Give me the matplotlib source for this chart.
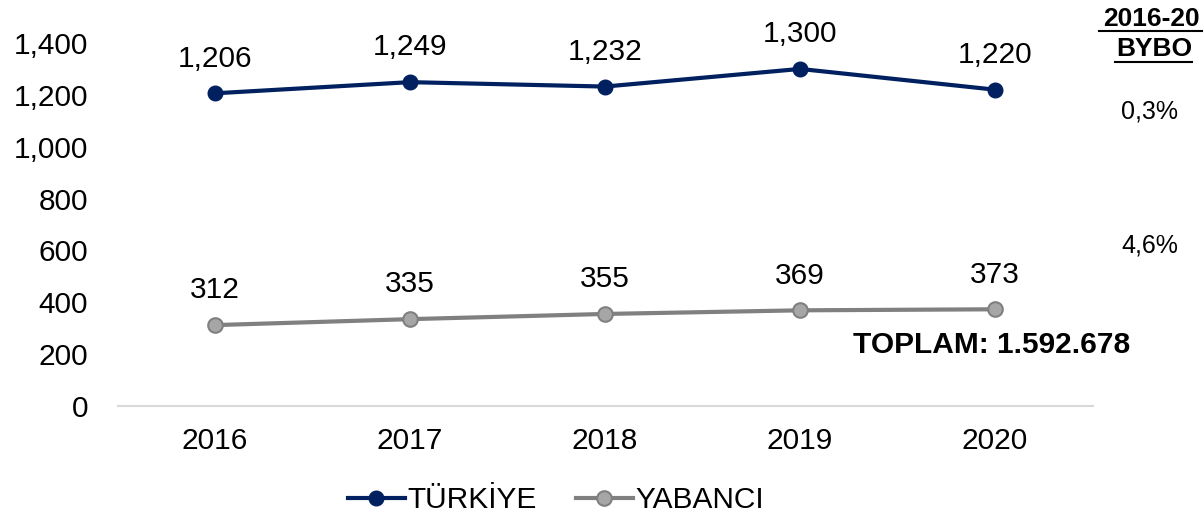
import matplotlib.pyplot as plt
from matplotlib.ticker import FuncFormatter

plt.rcParams['font.family'] = ['Liberation Sans', 'DejaVu Sans']

years = ["2016", "2017", "2018", "2019", "2020"]
turkiye = [1206, 1249, 1232, 1300, 1220]
yabanci = [312, 335, 355, 369, 373]
series_names = ["TÜRKİYE", "YABANCI"]
bybo_header = "2016-20\nBYBO"
bybo_values = ["0,3%", "4,6%"]
total_label = "TOPLAM: 1.592.678"

NAVY = "#002060"
GRAY_LINE = "#808080"
GRAY_FILL = "#a6a6a6"
FS = 21.5

fig = plt.figure(figsize=(12.04, 5.2), dpi=100)
ax = fig.add_axes([117.5 / 1204, 114 / 520, 975 / 1204, 363 / 520])

x = list(range(len(years)))
ax.plot(x, turkiye, color=NAVY, lw=3, marker="o", ms=10.5,
        mfc=NAVY, mec=NAVY, label=series_names[0])
ax.plot(x, yabanci, color=GRAY_LINE, lw=3, marker="o", ms=10.5,
        mfc=GRAY_FILL, mec=GRAY_LINE, mew=1.5, label=series_names[1])

for xi, v in zip(x, turkiye):
    ax.annotate(f"{v:,}", (xi, v), xytext=(0, 25), textcoords="offset points",
                ha="center", va="center", fontsize=FS)
for xi, v in zip(x, yabanci):
    ax.annotate(f"{v:,}", (xi, v), xytext=(0, 25), textcoords="offset points",
                ha="center", va="center", fontsize=FS)

ax.set_xlim(-0.5, len(years) - 0.5)
ax.set_ylim(0, 1400)
ax.set_yticks(range(0, 1401, 200))
ax.yaxis.set_major_formatter(FuncFormatter(lambda v, _: f"{int(v):,}"))
ax.set_xticks(x)
ax.set_xticklabels(years)
ax.tick_params(axis="both", length=0, labelsize=FS)
ax.tick_params(axis="y", pad=21)
ax.tick_params(axis="x", pad=15)

for side in ("top", "right", "left"):
    ax.spines[side].set_visible(False)
ax.spines["bottom"].set_color("#d9d9d9")
ax.spines["bottom"].set_linewidth(1.5)

# right-hand annotations: growth rates and total
fig.text(1151 / 1204, 1 - 19 / 520, bybo_header.split("\n")[0], ha="center",
         va="center", fontsize=19, fontweight="bold")
fig.text(1154 / 1204, 1 - 49 / 520, bybo_header.split("\n")[1], ha="center",
         va="center", fontsize=19, fontweight="bold")
fig.text(1150 / 1204, 1 - 112 / 520, bybo_values[0], ha="center", va="center",
         fontsize=18)
fig.text(1150 / 1204, 1 - 245 / 520, bybo_values[1], ha="center", va="center",
         fontsize=18)
fig.text(992 / 1204, 1 - 345 / 520, total_label, ha="center", va="center",
         fontsize=FS, fontweight="bold")

# underline the header lines
for yy, x0, x1 in [(1 - 31 / 520, 1099 / 1204, 1202 / 1204),
                   (1 - 62 / 520, 1115 / 1204, 1192 / 1204)]:
    fig.add_artist(plt.Line2D([x0, x1], [yy, yy], color="black", lw=1.5))

ax.legend(loc="center", bbox_to_anchor=(556 / 1204, 1 - 500 / 520),
          bbox_transform=fig.transFigure, ncol=2, frameon=False,
          fontsize=FS, handlelength=1.9, handletextpad=0.1, columnspacing=1.3)

fig.savefig("out.png", dpi=100)
